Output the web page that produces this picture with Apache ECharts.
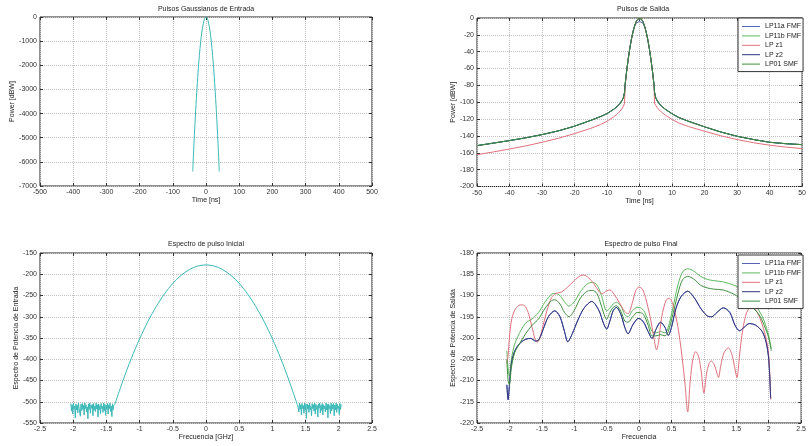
<!DOCTYPE html>
<html>
<head>
<meta charset="utf-8">
<title>Pulsos</title>
<script src="https://cdn.jsdelivr.net/npm/echarts@6/dist/echarts.min.js"></script>
<style>
html,body{margin:0;padding:0;background:#fff;}
#main{width:809px;height:446px;}
</style>
</head>
<body>
<div id="main"></div>
<script>
// pulso gaussiano de entrada  (Time [ns] / Power [dBW])
var tIn = [-40,-36,-32,-28,-24,-20,-16,-12,-8,-4,0,4,8,12,16,20,24,28,32,36,40];
var pIn = [-6400,-5180,-4100,-3140,-2300,-1600,-1020,-580,-260,-60,0,-60,-260,-580,-1020,-1600,-2300,-3140,-4100,-5180,-6400];

// pulsos de salida
var tOut = [-50,-45,-40,-35,-30,-25,-20,-15,-12,-10,-8,-7,-6,-5.5,-5,-4.6,-4.5,-4,-3.5,-3,-2.5,-2,-1.5,-1,-0.5,0,
            0.5,1,1.5,2,2.5,3,3.5,4,4.5,4.6,5,5.5,6,7,8,10,12,15,20,25,30,35,40,45,50];
var pOutLP11a = [-151.5,-148.5,-145.5,-142.2,-138.4,-134,-128.4,-121.5,-117,-113.5,-108.5,-105.5,-101.5,-98.5,-95,-88,-81,-64,-49,-36,-25,-16,-10,-6,-4.5,-4,
                 -4.5,-6,-10,-16,-25,-36,-49,-64,-81,-88,-95,-98.5,-101.5,-105.5,-108.5,-113.7,-118,-122.5,-129.2,-135.3,-140.4,-144.2,-147.5,-149.2,-150.3];
var pOutLP11b = [-151.5,-148.5,-145.5,-142.2,-138.4,-134,-128.4,-121.5,-117,-113.5,-108.5,-105.5,-101.5,-98.5,-95,-88,-81,-64,-49,-36,-25,-16,-9,-4,-1,0,
                 -1,-4,-9,-16,-25,-36,-49,-64,-81,-88,-95,-98.5,-101.5,-105.5,-108.5,-113.7,-118,-122.5,-129.2,-135.3,-140.4,-144.2,-147.5,-149.2,-150.3];
var pOutLPz1 = [-162.2,-159,-155.5,-151.8,-147.5,-142.8,-137.2,-131,-126.5,-122.5,-117.5,-114.5,-110.5,-108,-105,-101,-84,-64,-49,-36,-25,-16,-9,-4,-1,0,
                -1,-4,-9,-16,-25,-36,-49,-64,-84,-101,-104,-106.5,-109,-112.5,-115.5,-120.5,-124.5,-128.8,-134.4,-139.8,-144.3,-148,-151,-153.2,-155];
var pOutLPz2 = [-151.5,-148.5,-145.5,-142.2,-138.4,-134,-128.4,-121.5,-117,-113.5,-108.5,-105.5,-101.5,-98.5,-95,-88,-81,-64,-49,-36,-25,-16,-9,-4,-1,0,
                -1,-4,-9,-16,-25,-36,-49,-64,-81,-88,-95,-98.5,-101.5,-105.5,-108.5,-113.7,-118,-122.5,-129.2,-135.3,-140.4,-144.2,-147.5,-149.2,-150.3];
var pOutLP01 = [-151.5,-148.5,-145.5,-142.2,-138.4,-134,-128.4,-121.5,-117,-113.5,-108.5,-105.5,-101.5,-98.5,-95,-88,-81,-64,-49,-36,-25,-16,-9,-4,-1,0,
                -1,-4,-9,-16,-25,-36,-49,-64,-81,-88,-95,-98.5,-101.5,-105.5,-108.5,-113.7,-118,-122.5,-129.2,-135.3,-140.4,-144.2,-147.5,-149.2,-150.3];

// espectro del pulso inicial (Frecuencia [GHz])
var fPar = [-1.375,-1.25,-1.125,-1,-0.875,-0.75,-0.625,-0.5,-0.375,-0.25,-0.125,0,0.125,0.25,0.375,0.5,0.625,0.75,0.875,1,1.125,1.25,1.375];
var sPar = [-507,-450,-398,-352,-311,-276,-246,-221.5,-202.5,-189,-180.7,-178,-180.7,-189,-202.5,-221.5,-246,-276,-311,-352,-398,-450,-507];
// ruido numerico en los extremos del espectro
var noiseStartL = -2.035, noiseStartR = 1.38, noiseStep = 0.0095;
var noiseL = [-504,-522,-507,-529,-503,-517,-510,-538,-505,-519,-508,-526,-503,-515,-511,-534,-506,-521,-504,-518,
              -509,-531,-503,-516,-507,-524,-512,-540,-505,-518,-503,-527,-508,-515,-506,-533,-504,-520,-510,-523,
              -503,-517,-507,-536,-505,-519,-509,-528,-504,-516,-511,-525,-503,-521,-506,-532,-508,-518,-504,-529,
              -507,-516,-503,-523,-510,-535,-505,-519,-508,-507];
var noiseR = [-507,-505,-524,-503,-518,-507,-531,-504,-516,-509,-527,-503,-520,-506,-539,-505,-517,-508,-525,-503,
              -519,-511,-533,-504,-516,-507,-522,-503,-529,-506,-518,-509,-536,-505,-515,-503,-526,-508,-520,-504,
              -531,-507,-517,-510,-524,-503,-519,-506,-538,-505,-516,-509,-528,-503,-521,-507,-517,-504,-533,-508,
              -519,-503,-525,-506,-516,-510,-530,-504,-518,-506];

// espectro del pulso final
var fLP11a = [-2.04,-2.02,-2.0,-1.97,-1.93,-1.88,-1.82,-1.75,-1.67,-1.6,-1.55,-1.48,-1.4,-1.3,-1.22,-1.15,-1.1,-1.03,-0.95,-0.85,
              -0.73,-0.62,-0.55,-0.5,-0.45,-0.4,-0.35,-0.28,-0.22,-0.17,-0.1,-0.03,0,0.07,0.14,0.2,0.26,0.33,0.4,0.45,
              0.5,0.57,0.65,0.75,0.85,0.95,1.05,1.12,1.2,1.3,1.4,1.48,1.55,1.62,1.7,1.8,1.9,1.96,2.0,2.03];
var sLP11a = [-211,-214.5,-211,-206,-203.5,-202,-201,-200.3,-200.1,-200.7,-200.5,-198,-195,-193.6,-195,-198.5,-200.9,-199,-196,-193,
              -191.4,-193.5,-196.5,-197.9,-196,-193.6,-192.8,-194.5,-197.5,-199,-197,-195.5,-195.4,-196.3,-198.5,-200.1,-198,-196.3,-197.5,-199.4,
              -197.5,-193,-190.2,-189,-190.5,-193,-194.8,-195,-194,-192.9,-194,-197,-198.3,-197.5,-196.6,-197,-198.5,-201,-205,-214.2];
var fGreen = [-2.04,-2.02,-2.0,-1.97,-1.92,-1.85,-1.75,-1.65,-1.55,-1.45,-1.35,-1.3,-1.22,-1.15,-1.08,-1.0,-0.9,-0.8,-0.72,-0.65,
              -0.58,-0.5,-0.45,-0.4,-0.35,-0.28,-0.22,-0.17,-0.1,-0.03,0,0.07,0.14,0.2,0.26,0.33,0.4,0.45,0.52,0.6,
              0.67,0.75,0.85,0.95,1.05,1.15,1.3,1.45,1.55,1.65,1.75,1.85,1.93,2.0,2.04];
var sLP11b = [-203,-207,-209,-205,-201.5,-199,-196.5,-195.5,-194,-191.5,-189.7,-189.5,-190,-191.5,-192.5,-191.5,-189,-187.3,-186.9,-187.5,
              -190,-193.6,-193,-192,-191.6,-192.5,-194.5,-195,-193.5,-192.8,-192.8,-193.5,-196,-198.5,-198.8,-198.5,-198.8,-197.5,-193,-187.5,
              -184.5,-183.7,-184.3,-185.5,-186.2,-186.5,-186.8,-187.5,-188.2,-189.5,-191.3,-193.5,-196,-199.5,-202.5];
var sLP01 = [-205,-210,-211,-207,-203.5,-201.5,-199,-197,-195.5,-193,-191.2,-191,-192,-194,-195,-193.5,-190.5,-189,-188.8,-189.5,
             -192.5,-195.6,-194,-192.8,-192.4,-193.8,-196,-196.3,-195,-194,-194,-194.5,-197,-199.5,-199.5,-199.2,-199.5,-198.5,-194.5,-189.5,
             -186.3,-185.5,-186.2,-187.6,-188.2,-188.5,-188.7,-189.6,-190.5,-191.5,-192.8,-194.5,-197,-200,-203];
var fLPz1 = [-2.04,-2.02,-2.0,-1.97,-1.92,-1.85,-1.8,-1.75,-1.7,-1.65,-1.6,-1.57,-1.53,-1.48,-1.42,-1.35,-1.28,-1.2,-1.1,-1.0,
             -0.9,-0.85,-0.78,-0.7,-0.62,-0.57,-0.5,-0.45,-0.38,-0.3,-0.22,-0.17,-0.1,-0.05,0,0.05,0.1,0.17,0.23,0.27,
             0.3,0.35,0.42,0.47,0.53,0.6,0.66,0.71,0.75,0.79,0.83,0.875,0.92,0.96,1.0,1.04,1.08,1.115,1.16,1.2,
             1.225,1.26,1.31,1.375,1.43,1.47,1.51,1.55,1.6,1.66,1.73,1.8,1.88,1.95,2.0,2.03];
var sLPz1 = [-206,-204,-200,-196,-193.5,-192.3,-192.2,-192.7,-194.5,-197.5,-200.5,-201,-200,-197,-193.5,-190.5,-189.5,-189.2,-188,-186.5,
             -185.3,-185.2,-185.8,-187.2,-189,-189.6,-188.9,-188.7,-189.8,-191.8,-193.8,-194.3,-191.5,-188.8,-188,-188.5,-190.5,-195,-200,-202.8,
             -201,-195,-191,-190.7,-192.5,-197.5,-204,-211,-217.4,-210,-205,-203.2,-204.5,-208,-213,-208.5,-206,-205.4,-206.3,-208.2,
             -209.3,-206.5,-203.5,-202.3,-203.8,-206.5,-209.3,-204,-198,-194,-192.8,-193.4,-196,-199.5,-204,-214.5];
var sLPz2 = [-211,-214.5,-211,-206,-203.5,-202,-201,-200.3,-200.1,-200.7,-200.5,-198,-195,-193.6,-195,-198.5,-200.9,-199,-196,-193,
             -191.4,-193.5,-196.5,-197.9,-196,-193.6,-192.8,-194.5,-197.5,-199,-197,-195.5,-195.4,-196.3,-198.5,-200.1,-198,-196.3,-197.5,-199.4,
             -197.5,-193,-190.2,-189,-190.5,-193,-194.8,-195,-194,-192.9,-194,-197,-198.3,-197.5,-196.6,-197,-198.5,-201,-205,-214.2];

var names = ['LP11a FMF', 'LP11b FMF', 'LP z1', 'LP z2', 'LP01 SMF'];
var colors = ['#5465b6', '#5cba5c', '#e0707c', '#2f3682', '#3f8f3f'];
var CYAN = '#3bb8b8';
var FONT = '"Liberation Sans", Arial, sans-serif';

function pairs(xs, ys) {
  return xs.map(function (x, i) { return [x, ys[i]]; });
}
function noise(start, vals) {
  return vals.map(function (v, i) { return [+(start + i * noiseStep).toFixed(4), v]; });
}

var grids = [
  {left: 40, top: 17, width: 332, height: 169},
  {left: 477, top: 18, width: 329, height: 168.5},
  {left: 40, top: 253, width: 332, height: 170},
  {left: 477, top: 253, width: 329, height: 170}
];
grids.forEach(function (g) {
  g.show = true; g.borderColor = '#222'; g.borderWidth = 1; g.backgroundColor = '#fff'; g.containLabel = false;
});

function fmt(v) { return String(+v.toFixed(4)); }

function axis(dim, grid, min, max, step, name, gap, mirror) {
  var a = {
    type: 'value', gridIndex: grid, min: min, max: max, interval: step,
    position: mirror ? (dim === 'x' ? 'top' : 'right') : (dim === 'x' ? 'bottom' : 'left'),
    axisLine: {show: false, onZero: false},
    axisTick: {show: true, inside: true, length: 3, lineStyle: {color: '#333'}},
    axisLabel: {show: !mirror, fontSize: 7, color: '#333', fontFamily: FONT, margin: 3,
                showMinLabel: true, showMaxLabel: true, formatter: fmt},
    splitLine: {show: !mirror, lineStyle: {color: '#c2c2c2', type: 'dotted', width: 1}}
  };
  if (name) {
    a.name = name; a.nameLocation = 'middle'; a.nameGap = gap;
    a.nameTextStyle = {fontSize: 7, color: '#222', fontFamily: FONT};
  }
  return a;
}

var xAxes = [
  axis('x', 0, -500, 500, 100, 'Time [ns]', 11),
  axis('x', 1, -50, 50, 10, 'Time [ns]', 11),
  axis('x', 2, -2.5, 2.5, 0.5, 'Frecuencia [GHz]', 9),
  axis('x', 3, -2.5, 2.5, 0.5, 'Frecuencia', 9),
  axis('x', 0, -500, 500, 100, null, 0, true),
  axis('x', 1, -50, 50, 10, null, 0, true),
  axis('x', 2, -2.5, 2.5, 0.5, null, 0, true),
  axis('x', 3, -2.5, 2.5, 0.5, null, 0, true)
];
var yAxes = [
  axis('y', 0, -7000, 0, 1000, 'Power [dBW]', 21),
  axis('y', 1, -200, 0, 20, 'Power [dBW]', 20),
  axis('y', 2, -550, -150, 50, 'Espectro de Potencia de Entrada', 19),
  axis('y', 3, -220, -180, 5, 'Espectro de Potencia de Salida', 20),
  axis('y', 0, -7000, 0, 1000, null, 0, true),
  axis('y', 1, -200, 0, 20, null, 0, true),
  axis('y', 2, -550, -150, 50, null, 0, true),
  axis('y', 3, -220, -180, 5, null, 0, true)
];

function line(name, idx, data, color, smooth) {
  return {
    name: name, type: 'line', xAxisIndex: idx, yAxisIndex: idx, data: data,
    symbol: 'none', smooth: smooth || false, color: color,
    lineStyle: {width: 1, color: color}, clip: true, animation: false
  };
}

var outY = [pOutLP11a, pOutLP11b, pOutLPz1, pOutLPz2, pOutLP01];
var finX = [fLP11a, fGreen, fLPz1, fLP11a, fGreen];
var finY = [sLP11a, sLP11b, sLPz1, sLPz2, sLP01];

var series = [
  line('Entrada', 0, pairs(tIn, pIn), CYAN, 0.3),
  line('Espectro', 2, noise(noiseStartL, noiseL), CYAN),
  line('Espectro', 2, pairs(fPar, sPar), CYAN, 0.3),
  line('Espectro', 2, noise(noiseStartR, noiseR), CYAN)
];
names.forEach(function (n, i) {
  series.push(line(n, 1, pairs(tOut, outY[i]), colors[i]));
});
names.forEach(function (n, i) {
  series.push(line(n, 3, pairs(finX[i], finY[i]), colors[i], 0.3));
});

function title(text, x, y) {
  return {
    text: text, left: x, top: y, textAlign: 'center', padding: 0,
    textStyle: {fontSize: 7, fontWeight: 'normal', color: '#222', fontFamily: FONT}
  };
}
function legend(top) {
  return {
    data: names, orient: 'vertical', left: 738, top: top, padding: [4, 2, 3, 4],
    itemGap: 0.4, itemWidth: 18, itemHeight: 1, icon: 'rect',
    backgroundColor: '#fff', borderColor: '#333', borderWidth: 1, borderRadius: 0,
    selectedMode: false,
    textStyle: {fontSize: 7, color: '#222', lineHeight: 9, fontFamily: FONT}
  };
}

var myChart = echarts.init(document.getElementById('main'));
myChart.setOption({
  backgroundColor: '#fff',
  animation: false,
  title: [
    title('Pulsos Gaussianos de Entrada', 206, 6),
    title('Pulsos de Salida', 643, 6),
    title('Espectro de pulso Inicial', 206, 241),
    title('Espectro de pulso Final', 641, 241)
  ],
  legend: [legend(18), legend(255)],
  grid: grids,
  xAxis: xAxes,
  yAxis: yAxes,
  series: series
});
</script>
</body>
</html>
